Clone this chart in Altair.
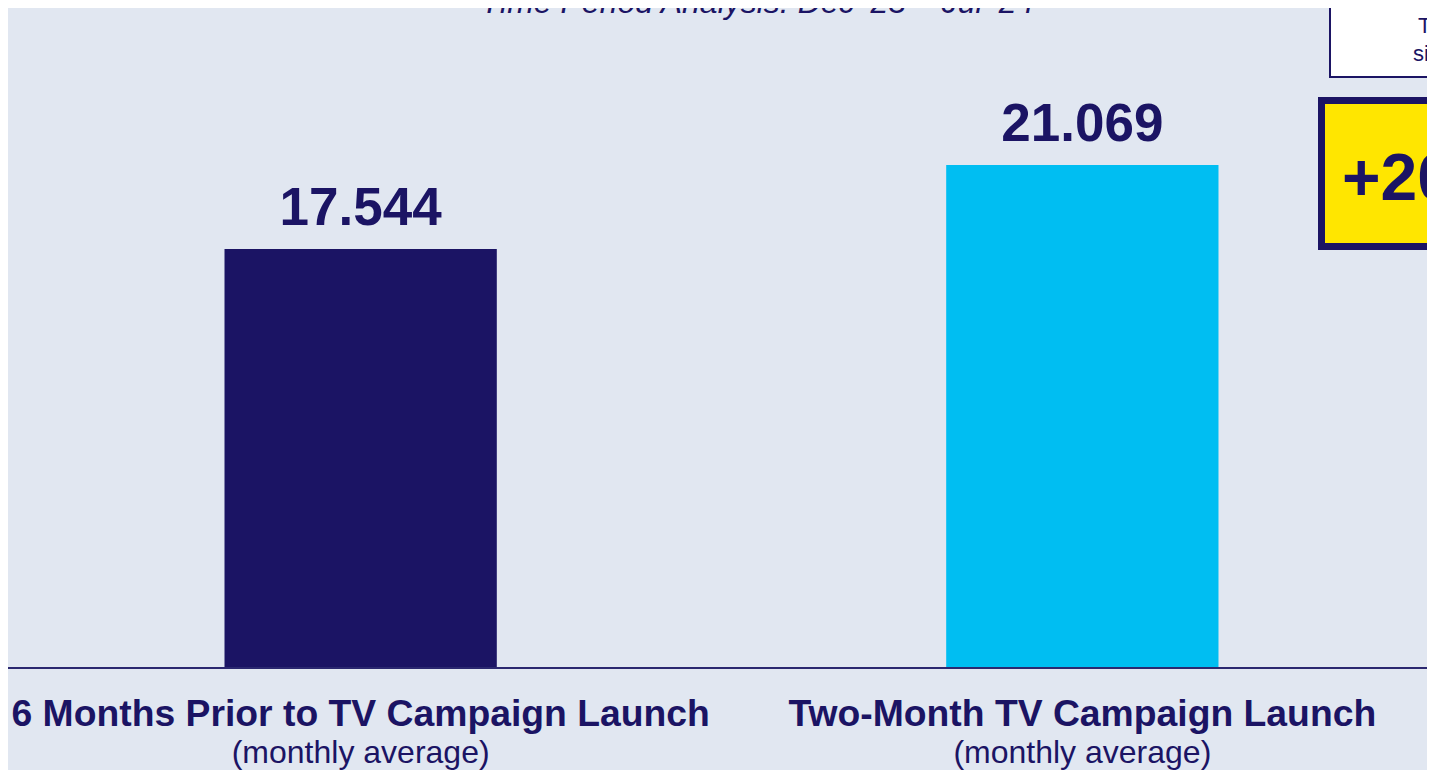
import altair as alt
import pandas as pd

# ---- data ----
categories = ["6 Months Prior to TV Campaign Launch", "Two-Month TV Campaign Launch"]
subtitles = ["(monthly average)", "(monthly average)"]
values = [17544, 21069]
bar_colors = ["#1B1464", "#00BEF2"]
title_text = "Time Period Analysis: Dec \u201923 \u2013 Jul \u201924"
note_line1 = "Total increase"
note_line2 = "since TV launch"

NAVY = "#1B1464"
BG = "#E1E7F1"
FONT = "Liberation Sans"

df = pd.DataFrame({
    "category": categories,
    "subtitle": subtitles,
    "value": values,
    "color": bar_colors,
})
df["label"] = [f"{v:,}".replace(",", ".") for v in values]
pct = round((values[1] / values[0] - 1) * 100)
uplift_text = f"+{pct}%"

W, H = 1419, 660
xscale = alt.Scale(range=[0, 1427], paddingInner=0.6227, paddingOuter=0.3)
yscale = alt.Scale(domain=[0, 27640], nice=False)

base = alt.Chart(df)
x_enc = alt.X("category:N", scale=xscale, axis=None, sort=None)

bars = base.mark_bar().encode(
    x=x_enc,
    y=alt.Y("value:Q", scale=yscale, axis=None),
    color=alt.Color("color:N", scale=None, legend=None),
)

value_labels = base.mark_text(
    font=FONT, fontSize=53, fontWeight="bold", color=NAVY,
    baseline="alphabetic", align="center", dy=-24,
).encode(x=x_enc, y=alt.Y("value:Q", scale=yscale), text="label:N")

cat_labels = base.mark_text(
    font=FONT, fontSize=37.3, fontWeight="bold", color=NAVY,
    baseline="alphabetic", align="center",
).encode(x=x_enc, y=alt.value(718), text="category:N")

sub_labels = base.mark_text(
    font=FONT, fontSize=32, color=NAVY,
    baseline="alphabetic", align="center",
).encode(x=x_enc, y=alt.value(755), text="subtitle:N")

baseline_rule = alt.Chart(pd.DataFrame({"zero": [0]})).mark_rule(
    color="#2B2870", strokeWidth=2
).encode(y=alt.Y("zero:Q", scale=yscale), x=alt.value(0), x2=alt.value(W))

one = pd.DataFrame({"t": [title_text], "a": [note_line1], "b": [note_line2], "u": [uplift_text]})
ann = alt.Chart(one)

title = ann.mark_text(
    font=FONT, fontSize=32, fontStyle="italic", color=NAVY,
    baseline="alphabetic", align="center",
).encode(x=alt.value(749.5), y=alt.value(5), text="t:N")

white_box = ann.mark_rect(fill="white", stroke=NAVY, strokeWidth=2).encode(
    x=alt.value(1322), x2=alt.value(1700), y=alt.value(-10), y2=alt.value(69)
)
note1 = ann.mark_text(
    font=FONT, fontSize=22, color=NAVY, baseline="alphabetic", align="left"
).encode(x=alt.value(1410), y=alt.value(25), text="a:N")
note2 = ann.mark_text(
    font=FONT, fontSize=22, color=NAVY, baseline="alphabetic", align="left"
).encode(x=alt.value(1405), y=alt.value(53), text="b:N")

yellow_box = ann.mark_rect(fill="#FFE600", stroke=NAVY, strokeWidth=7).encode(
    x=alt.value(1313.5), x2=alt.value(1700), y=alt.value(92.5), y2=alt.value(238.5)
)
uplift = ann.mark_text(
    font=FONT, fontSize=66, fontWeight="bold", color=NAVY,
    baseline="alphabetic", align="left",
).encode(x=alt.value(1334), y=alt.value(192), text="u:N")

chart = alt.layer(
    bars, baseline_rule, value_labels, cat_labels, sub_labels,
    title, white_box, note1, note2, yellow_box, uplift,
).properties(
    width=W, height=H,
    autosize=alt.AutoSizeParams(type="none"),
    padding={"left": 0, "top": 0, "right": 0, "bottom": 102},
    background=BG,
).configure_view(strokeWidth=0)

chart.save("out.html", embed_options={"renderer": "svg", "actions": False})
